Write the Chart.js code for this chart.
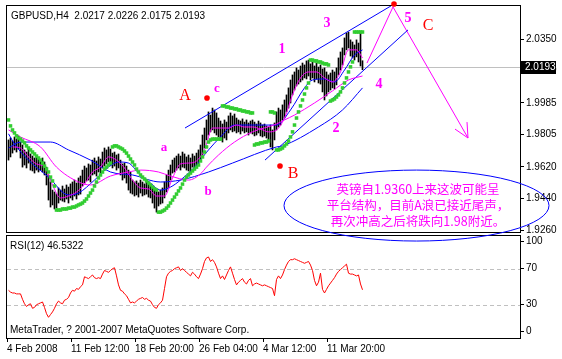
<!DOCTYPE html>
<html>
<head>
<meta charset="utf-8">
<script src="https://cdn.jsdelivr.net/npm/chart.js@4.4.1/dist/chart.umd.min.js"></script>
<style>
  html, body { margin: 0; padding: 0; background: #fff; }
  #wrap { position: relative; width: 562px; height: 359px; overflow: hidden; }
  #price { position: absolute; left: 0; top: 0; z-index: 2; }
  #rsi { position: absolute; left: 0; top: 225px; z-index: 1; }
</style>
</head>
<body>
<div id="wrap">
  <canvas id="price" width="562" height="250"></canvas>
  <canvas id="rsi" width="562" height="134"></canvas>
</div>
<script>
// ---- data (bar index = one H4 bar) ----
const barHigh = [
  1.9774, 1.9785, 1.9768, 1.9791, 1.9780, 1.9797, 1.9762, 1.9745, 1.9717, 1.9705,
  1.9722, 1.9694, 1.9682, 1.9671, 1.9677, 1.9665, 1.9659, 1.9671, 1.9648, 1.9619,
  1.9574, 1.9534, 1.9488, 1.9477, 1.9466, 1.9500, 1.9488, 1.9511, 1.9494, 1.9517,
  1.9505, 1.9523, 1.9534, 1.9545, 1.9528, 1.9557, 1.9568, 1.9602, 1.9625, 1.9614,
  1.9637, 1.9631, 1.9659, 1.9671, 1.9654, 1.9677, 1.9665, 1.9705, 1.9728, 1.9717,
  1.9734, 1.9722, 1.9699, 1.9705, 1.9688, 1.9694, 1.9659, 1.9637, 1.9642, 1.9625,
  1.9602, 1.9591, 1.9545, 1.9534, 1.9540, 1.9528, 1.9545, 1.9534, 1.9523, 1.9540,
  1.9528, 1.9517, 1.9505, 1.9500, 1.9488, 1.9477, 1.9488, 1.9500, 1.9534, 1.9574,
  1.9602, 1.9631, 1.9659, 1.9671, 1.9682, 1.9694, 1.9682, 1.9705, 1.9694, 1.9677,
  1.9688, 1.9671, 1.9694, 1.9682, 1.9699, 1.9717, 1.9745, 1.9802, 1.9842, 1.9888,
  1.9934, 1.9916, 1.9956, 1.9945, 1.9928, 1.9899, 1.9882, 1.9865, 1.9888, 1.9876,
  1.9911, 1.9928, 1.9911, 1.9922, 1.9899, 1.9888, 1.9882, 1.9894, 1.9876, 1.9888,
  1.9871, 1.9882, 1.9888, 1.9876, 1.9865, 1.9882, 1.9871, 1.9859, 1.9865, 1.9854,
  1.9848, 1.9859, 1.9831, 1.9871, 1.9934, 1.9956, 1.9945, 1.9974, 2.0002, 2.0031,
  2.0071, 2.0116, 2.0145, 2.0162, 2.0185, 2.0173, 2.0196, 2.0213, 2.0202, 2.0225,
  2.0230, 2.0208, 2.0219, 2.0196, 2.0213, 2.0190, 2.0202, 2.0179, 2.0185, 2.0162,
  2.0145, 2.0156, 2.0173, 2.0162, 2.0185, 2.0242, 2.0276, 2.0299, 2.0356, 2.0384,
  2.0390, 2.0345, 2.0333, 2.0316, 2.0345, 2.0327, 2.0384, 2.0226
];
const barLow = [
  1.9659, 1.9677, 1.9699, 1.9717, 1.9705, 1.9722, 1.9671, 1.9619, 1.9631, 1.9614,
  1.9642, 1.9602, 1.9597, 1.9585, 1.9602, 1.9591, 1.9602, 1.9591, 1.9574, 1.9517,
  1.9431, 1.9391, 1.9403, 1.9380, 1.9385, 1.9414, 1.9431, 1.9425, 1.9420, 1.9437,
  1.9414, 1.9443, 1.9431, 1.9454, 1.9437, 1.9460, 1.9465, 1.9511, 1.9528, 1.9540,
  1.9545, 1.9534, 1.9574, 1.9580, 1.9568, 1.9591, 1.9585, 1.9614, 1.9625, 1.9637,
  1.9648, 1.9631, 1.9614, 1.9625, 1.9602, 1.9614, 1.9574, 1.9545, 1.9557, 1.9528,
  1.9488, 1.9471, 1.9465, 1.9454, 1.9460, 1.9448, 1.9471, 1.9454, 1.9460, 1.9465,
  1.9448, 1.9443, 1.9414, 1.9385, 1.9362, 1.9397, 1.9408, 1.9414, 1.9443, 1.9477,
  1.9500, 1.9545, 1.9585, 1.9591, 1.9602, 1.9614, 1.9602, 1.9619, 1.9614, 1.9602,
  1.9597, 1.9591, 1.9619, 1.9608, 1.9625, 1.9631, 1.9659, 1.9688, 1.9728, 1.9774,
  1.9802, 1.9820, 1.9831, 1.9814, 1.9802, 1.9791, 1.9774, 1.9762, 1.9785, 1.9774,
  1.9814, 1.9831, 1.9820, 1.9825, 1.9814, 1.9820, 1.9808, 1.9825, 1.9814, 1.9820,
  1.9802, 1.9814, 1.9808, 1.9797, 1.9802, 1.9814, 1.9797, 1.9791, 1.9797, 1.9785,
  1.9774, 1.9734, 1.9717, 1.9774, 1.9831, 1.9848, 1.9859, 1.9888, 1.9899, 1.9934,
  1.9956, 1.9985, 2.0031, 2.0059, 2.0082, 2.0093, 2.0105, 2.0116, 2.0128, 2.0122,
  2.0139, 2.0116, 2.0128, 2.0105, 2.0122, 2.0099, 2.0093, 2.0048, 2.0002, 2.0025,
  2.0048, 2.0059, 2.0071, 2.0065, 2.0088, 2.0145, 2.0173, 2.0202, 2.0259, 2.0288,
  2.0299, 2.0253, 2.0242, 2.0230, 2.0248, 2.0219, 2.0196, 2.0175
];
const sarValues = [
  1.9888, 1.9854, 1.9831, 1.9814, 1.9797, 1.9785, 1.9779, 1.9768, 1.9757, 1.9740,
  1.9728, 1.9717, 1.9705, 1.9694, 1.9682, 1.9671, 1.9659, 1.9642, 1.9625, 1.9608,
  1.9591, 1.9562, 1.9540, 1.9511, 1.9374, 1.9374, 1.9374, 1.9380, 1.9380, 1.9380,
  1.9385, 1.9385, 1.9391, 1.9391, 1.9397, 1.9403, 1.9408, 1.9414, 1.9425, 1.9437,
  1.9454, 1.9471, 1.9488, 1.9511, 1.9534, 1.9557, 1.9574, 1.9591, 1.9608, 1.9619,
  1.9631, 1.9642, 1.9734, 1.9740, 1.9740, 1.9734, 1.9728, 1.9722, 1.9711, 1.9699,
  1.9682, 1.9665, 1.9648, 1.9631, 1.9608, 1.9591, 1.9574, 1.9562, 1.9551, 1.9540,
  1.9528, 1.9517, 1.9505, 1.9494, 1.9488, 1.9362, 1.9362, 1.9368, 1.9374, 1.9385,
  1.9397, 1.9414, 1.9431, 1.9448, 1.9465, 1.9483, 1.9500, 1.9522, 1.9545, 1.9562,
  1.9574, 1.9585, 1.9597, 1.9608, 1.9619, 1.9631, 1.9654, 1.9677, 1.9705, 1.9734,
  1.9762, 1.9774, 1.9779, 1.9779, 1.9779, 1.9779, 1.9779, 1.9968, 1.9968, 1.9962,
  1.9962, 1.9956, 1.9956, 1.9951, 1.9951, 1.9945, 1.9945, 1.9939, 1.9939, 1.9934,
  1.9934, 1.9928, 1.9928, 1.9745, 1.9751, 1.9751, 1.9757, 1.9757, 1.9762, 1.9762,
  1.9768, 1.9934, 1.9934, 1.9928, 1.9717, 1.9717, 1.9722, 1.9728, 1.9740, 1.9751,
  1.9768, 1.9791, 1.9820, 1.9859, 1.9899, 1.9934, 1.9968, 2.0002, 2.0036, 2.0071,
  2.0099, 2.0230, 2.0230, 2.0225, 2.0225, 2.0219, 2.0219, 2.0213, 2.0208, 2.0208,
  2.0202, 1.9996, 2.0002, 2.0008, 2.0019, 2.0031, 2.0048, 2.0071, 2.0099, 2.0128,
  2.0162, 2.0191, 2.0219, 2.0390, 2.0390, 2.0390, 2.0390, 2.0390
];
const rsiValues = [
  46, 44, 43, 43, 42, 42, 42, 36, 31, 28,
  30, 31, 26, 27, 30, 31, 32, 33, 27, 20,
  16, 19, 22, 26, 31, 34, 32, 31, 35, 36,
  38, 43, 46, 45, 48, 47, 50, 52, 61, 60,
  59, 61, 63, 60, 59, 60, 59, 64, 68, 67,
  66, 68, 70, 71, 62, 52, 46, 45, 42, 40,
  36, 32, 33, 32, 34, 36, 37, 38, 36, 37,
  35, 34, 30, 27, 26, 30, 32, 35, 48, 61,
  65, 67, 68, 70, 71, 72, 68, 70, 68, 66,
  64, 62, 66, 64, 61, 59, 64, 70, 78, 82,
  83, 78, 80, 77, 72, 65, 59, 62, 58, 63,
  68, 72, 65, 58, 52, 55, 57, 59, 55, 53,
  57, 59, 51, 53, 54, 53, 52, 51, 52, 51,
  50, 49, 48, 40, 58, 62, 59, 63, 69, 74,
  78, 80, 80, 81, 80, 79, 78, 77, 76, 77,
  78, 74, 68, 57, 51, 55, 65, 47, 43, 47,
  51, 54, 57, 60, 64, 67, 69, 71, 73, 75,
  65, 64, 64, 63, 62, 63, 53, 46.5322
];
// indicator lines: [bar, price]
const maFast = [
  [2, 1.9734], [6, 1.9728], [10, 1.9677], [14, 1.9637], [18, 1.9619], [22, 1.9517],
  [26, 1.9443], [30, 1.9454], [34, 1.9477], [38, 1.9522], [42, 1.9591], [46, 1.9619],
  [50, 1.9677], [54, 1.9659], [58, 1.9614], [62, 1.9545], [66, 1.9500], [70, 1.9494],
  [74, 1.9454], [78, 1.9454], [82, 1.9557], [86, 1.9637], [90, 1.9642], [94, 1.9654],
  [98, 1.9717], [102, 1.9842], [106, 1.9842], [110, 1.9842], [114, 1.9859], [118, 1.9848],
  [122, 1.9848], [126, 1.9836], [130, 1.9820], [134, 1.9831], [138, 1.9899], [142, 2.0031],
  [146, 2.0128], [150, 2.0162], [154, 2.0162], [158, 2.0128], [162, 2.0105], [166, 2.0162],
  [170, 2.0288], [174, 2.0288], [177, 2.0242]
];
const maSlow = [
  [0, 1.9831], [6, 1.9791], [16, 1.9734], [24, 1.9619], [35, 1.9534], [41, 1.9517],
  [51, 1.9568], [60, 1.9591], [66, 1.9602], [75, 1.9591], [81, 1.9568], [90, 1.9545],
  [96, 1.9580], [99, 1.9619], [105, 1.9688], [113, 1.9762], [122, 1.9820], [134, 1.9865],
  [138, 1.9888], [143, 1.9916], [153, 1.9985], [162, 2.0054], [170, 2.0116], [177, 2.0139]
];
const maBlueSlow = [
  [0, 1.9728], [6, 1.9762], [21, 1.9762], [30, 1.9717], [41, 1.9659], [51, 1.9591],
  [62, 1.9574], [76, 1.9534], [86, 1.9545], [100, 1.9591], [112, 1.9642], [134, 1.9734],
  [137, 1.9740], [155, 1.9848], [167, 1.9945], [177, 2.0071]
];
const maBlueFast = [
  [0, 1.9809], [3, 1.9751], [10, 1.9659], [20, 1.9562], [30, 1.9460], [35, 1.9471],
  [43, 1.9545], [50, 1.9619], [55, 1.9648], [60, 1.9642], [65, 1.9585], [71, 1.9528],
  [76, 1.9488], [81, 1.9505], [86, 1.9545], [93, 1.9619], [100, 1.9717], [106, 1.9791],
  [113, 1.9859], [122, 1.9859], [134, 1.9859], [141, 1.9945], [148, 2.0071], [152, 2.0116],
  [158, 2.0122], [163, 2.0105], [168, 2.0173], [173, 2.0259], [177, 2.0288]
];
const priceTicks = [2.0350, 2.0170, 1.9985, 1.9805, 1.9620, 1.9440, 1.9260];
const rsiTicks = [100, 70, 30, 0];
const rsiLevels = [70, 30];
const timeLabels = ['4 Feb 2008', '11 Feb 12:00', '18 Feb 20:00', '26 Feb 04:00', '4 Mar 12:00', '11 Mar 20:00'];
const timeLabelBars = [0, 32, 64, 96, 128, 160];
const quote = { open: 2.0217, high: 2.0226, low: 2.0175, close: 2.0193 };
const noteLines = ['英镑自1.9360上来这波可能呈', '平台结构，目前A浪已接近尾声，', '再次冲高之后将跌向1.98附近。'];

// ---- drawn objects on the chart, in bar / price coordinates ----
const channelUpper = [[88.25, 1.9842], [191.25, 2.0539]];
const channelLower = [[128.25, 1.9659], [199.75, 2.0402]];
const wavePath = [[179.25, 2.0213], [192.25, 2.0533], [229.75, 1.9785]];
const arrowHead = [[223.25, 1.9836], [229.75, 1.9785], [229.25, 1.9876]];
const waveTags = [
  { text: 'A', bar: 88.25, price: 2.0002, color: '#ff0000', font: "16px 'Liberation Serif'" },
  { text: 'B', bar: 142.25, price: 1.9557, color: '#ff0000', font: "16px 'Liberation Serif'" },
  { text: 'C', bar: 209.75, price: 2.0402, color: '#ff0000', font: "16px 'Liberation Serif'" },
  { text: 'a', bar: 77.75, price: 1.9711, color: '#ff00ff', font: "bold 13px 'Liberation Serif'" },
  { text: 'b', bar: 99.75, price: 1.9460, color: '#ff00ff', font: "bold 13px 'Liberation Serif'" },
  { text: 'c', bar: 104.25, price: 2.0048, color: '#ff00ff', font: "bold 13px 'Liberation Serif'" },
  { text: '1', bar: 136.75, price: 2.0270, color: '#ff00ff', font: "bold 14px 'Liberation Serif'" },
  { text: '2', bar: 163.75, price: 1.9819, color: '#ff00ff', font: "bold 14px 'Liberation Serif'" },
  { text: '3', bar: 159.25, price: 2.0419, color: '#ff00ff', font: "bold 14px 'Liberation Serif'" },
  { text: '4', bar: 185.25, price: 2.0071, color: '#ff00ff', font: "bold 14px 'Liberation Serif'" },
  { text: '5', bar: 199.75, price: 2.0447, color: '#ff00ff', font: "bold 14px 'Liberation Serif'" }
];
const redDots = [[99.25, 2.0013], [135.75, 1.9625], [192.75, 2.0550]];
const noteEllipse = { bar0: 137.75, bar1: 270.25, top: 1.9602, bottom: 1.9197 };
const noteAnchor = { bar: 204.75, prices: [1.9465, 1.9377, 1.9283] };

const axisFont = { family: "'Liberation Sans', Arial, sans-serif", size: 10 };
const axisFontCss = "10px 'Liberation Sans', Arial, sans-serif";

function toXY(pairs) {
  return pairs.map(([x, y]) => ({ x, y }));
}

function lineSet(label, pairs, color, order, smooth) {
  return {
    type: 'line',
    label: label,
    data: toXY(pairs),
    borderColor: color,
    borderWidth: 1,
    pointRadius: 0,
    cubicInterpolationMode: smooth ? 'monotone' : 'default',
    order: order
  };
}

const barScale = { type: 'linear', min: -0.75, max: 255.75, offset: false, grid: { offset: false } };

const priceOverlay = {
  id: 'priceOverlay',
  beforeDatasetsDraw(chart) {
    const { ctx, chartArea: a, scales: { y } } = chart;
    const py = Math.round(y.getPixelForValue(quote.close)) + 0.5;
    ctx.save();
    ctx.strokeStyle = '#c0c0c0';
    ctx.lineWidth = 1;
    ctx.beginPath();
    ctx.moveTo(a.left, py);
    ctx.lineTo(a.right, py);
    ctx.stroke();
    ctx.restore();
  },
  afterDraw(chart) {
    const { ctx, chartArea: a, scales: { x, y } } = chart;
    ctx.save();

    ctx.strokeStyle = '#000';
    ctx.lineWidth = 1;
    ctx.strokeRect(a.left - 0.5, a.top - 0.5, a.right - a.left + 1, a.bottom - a.top + 1);

    ctx.fillStyle = '#000';
    ctx.font = axisFontCss;
    ctx.textAlign = 'left';
    ctx.textBaseline = 'alphabetic';
    const title = 'GBPUSD,H4  ' + [quote.open, quote.high, quote.low, quote.close].map(v => v.toFixed(4)).join(' ');
    ctx.fillText(title, 11, 18.5);

    ctx.textAlign = 'center';
    waveTags.forEach(tag => {
      ctx.font = tag.font;
      ctx.fillStyle = tag.color;
      ctx.fillText(tag.text, x.getPixelForValue(tag.bar), y.getPixelForValue(tag.price));
    });

    ctx.fillStyle = '#ff0000';
    redDots.forEach(([b, p]) => {
      ctx.beginPath();
      ctx.arc(x.getPixelForValue(b), y.getPixelForValue(p), 2.8, 0, Math.PI * 2);
      ctx.fill();
    });

    const ex0 = x.getPixelForValue(noteEllipse.bar0);
    const ex1 = x.getPixelForValue(noteEllipse.bar1);
    const ey0 = y.getPixelForValue(noteEllipse.top);
    const ey1 = y.getPixelForValue(noteEllipse.bottom);
    ctx.strokeStyle = '#0000ff';
    ctx.beginPath();
    ctx.ellipse((ex0 + ex1) / 2, (ey0 + ey1) / 2, (ex1 - ex0) / 2, (ey1 - ey0) / 2, 0, 0, Math.PI * 2);
    ctx.stroke();

    ctx.fillStyle = '#ff00ff';
    ctx.font = "12.5px 'Noto Sans CJK SC', sans-serif";
    const nx = x.getPixelForValue(noteAnchor.bar);
    noteLines.forEach((line, i) => {
      ctx.fillText(line, nx, y.getPixelForValue(noteAnchor.prices[i]));
    });

    const py = Math.round(y.getPixelForValue(quote.close));
    ctx.fillStyle = '#000';
    ctx.fillRect(a.right + 1, py - 6, 35, 13);
    ctx.fillStyle = '#fff';
    ctx.font = axisFontCss;
    ctx.textAlign = 'left';
    ctx.textBaseline = 'middle';
    ctx.fillText(quote.close.toFixed(4), a.right + 5, py + 0.5);

    ctx.restore();
  }
};

new Chart(document.getElementById('price'), {
  type: 'bar',
  data: {
    datasets: [
      {
        type: 'line',
        label: 'Parabolic SAR',
        data: sarValues.map((v, i) => ({ x: i, y: v })),
        showLine: false,
        pointStyle: 'rect',
        pointRadius: 2.5,
        pointBackgroundColor: '#32cd32',
        pointBorderColor: '#32cd32',
        pointBorderWidth: 0,
        order: 0
      },
      lineSet('MA fast', maFast, '#ff00ff', 1, true),
      lineSet('MA slow', maSlow, '#ff00ff', 1, true),
      lineSet('MA blue fast', maBlueFast, '#0000ff', 2, true),
      lineSet('MA blue slow', maBlueSlow, '#0000ff', 2, true),
      lineSet('channel upper', channelUpper, '#0000ff', 3, false),
      lineSet('channel lower', channelLower, '#0000ff', 3, false),
      lineSet('wave C', wavePath, '#ff00ff', 3, false),
      lineSet('arrow', arrowHead, '#ff00ff', 3, false),
      {
        type: 'bar',
        label: 'GBPUSD H4',
        data: barLow.map((l, i) => ({ x: i, y: [l, barHigh[i]] })),
        backgroundColor: '#000',
        barThickness: 1,
        grouped: false,
        order: 10
      }
    ]
  },
  options: {
    responsive: false,
    animation: false,
    devicePixelRatio: 1,
    events: [],
    layout: { padding: { left: 7, top: 6, right: 0, bottom: 18 } },
    plugins: { legend: { display: false }, tooltip: { enabled: false } },
    scales: {
      x: Object.assign({}, barScale, { display: false }),
      y: {
        position: 'right',
        min: 1.92486,
        max: 2.05384,
        beginAtZero: false,
        afterBuildTicks: s => { s.ticks = priceTicks.map(v => ({ value: v })); },
        afterFit: s => { s.width = 42; s.paddingTop = 0; s.paddingBottom = 0; },
        ticks: { callback: v => v.toFixed(4), font: axisFont, color: '#000', padding: 2, autoSkip: false },
        grid: { drawOnChartArea: false, drawTicks: true, tickLength: 4, color: '#000' },
        border: { display: false }
      }
    }
  },
  plugins: [priceOverlay]
});

const rsiOverlay = {
  id: 'rsiOverlay',
  beforeDatasetsDraw(chart) {
    const { ctx, chartArea: a, scales: { y } } = chart;
    ctx.save();
    ctx.strokeStyle = '#c0c0c0';
    ctx.lineWidth = 1;
    ctx.setLineDash([4, 3]);
    rsiLevels.forEach(level => {
      const py = Math.round(y.getPixelForValue(level)) + 0.5;
      ctx.beginPath();
      ctx.moveTo(a.left, py);
      ctx.lineTo(a.right, py);
      ctx.stroke();
    });
    ctx.restore();
  },
  afterDraw(chart) {
    const { ctx, chartArea: a } = chart;
    ctx.save();
    ctx.strokeStyle = '#000';
    ctx.lineWidth = 1;
    ctx.strokeRect(a.left - 0.5, a.top - 0.5, a.right - a.left + 1, a.bottom - a.top + 1);
    ctx.fillStyle = '#000';
    ctx.font = axisFontCss;
    ctx.textAlign = 'left';
    ctx.textBaseline = 'alphabetic';
    ctx.fillText('RSI(12) ' + rsiValues[rsiValues.length - 1].toFixed(4), 10, 24);
    ctx.fillText('MetaTrader, ? 2001-2007 MetaQuotes Software Corp.', 10, 108.3);
    ctx.restore();
  }
};

new Chart(document.getElementById('rsi'), {
  type: 'line',
  data: {
    datasets: [{
      label: 'RSI(12)',
      data: rsiValues.map((v, i) => ({ x: i, y: v })),
      borderColor: '#ff0000',
      borderWidth: 1,
      pointRadius: 0
    }]
  },
  options: {
    responsive: false,
    animation: false,
    devicePixelRatio: 1,
    events: [],
    layout: { padding: { left: 7, top: 11, right: 0, bottom: 0 } },
    plugins: { legend: { display: false }, tooltip: { enabled: false } },
    scales: {
      x: Object.assign({}, barScale, {
        position: 'bottom',
        afterBuildTicks: s => { s.ticks = timeLabelBars.map(b => ({ value: b - 0.75 })); },
        afterFit: s => { s.height = 21; s.paddingLeft = 0; s.paddingRight = 0; },
        ticks: {
          callback: (v, i) => timeLabels[i],
          font: axisFont, color: '#000', align: 'start', maxRotation: 0, autoSkip: false, padding: 1
        },
        grid: { drawOnChartArea: false, drawTicks: true, tickLength: 4, color: '#000', offset: false },
        border: { display: false }
      }),
      y: {
        position: 'right',
        min: -7,
        max: 106.3,
        afterBuildTicks: s => { s.ticks = rsiTicks.map(v => ({ value: v })); },
        afterFit: s => { s.width = 42; s.paddingTop = 0; s.paddingBottom = 0; },
        ticks: { callback: v => String(v), font: axisFont, color: '#000', padding: 2, autoSkip: false },
        grid: { drawOnChartArea: false, drawTicks: true, tickLength: 4, color: '#000' },
        border: { display: false }
      }
    }
  },
  plugins: [rsiOverlay]
});
</script>
</body>
</html>
